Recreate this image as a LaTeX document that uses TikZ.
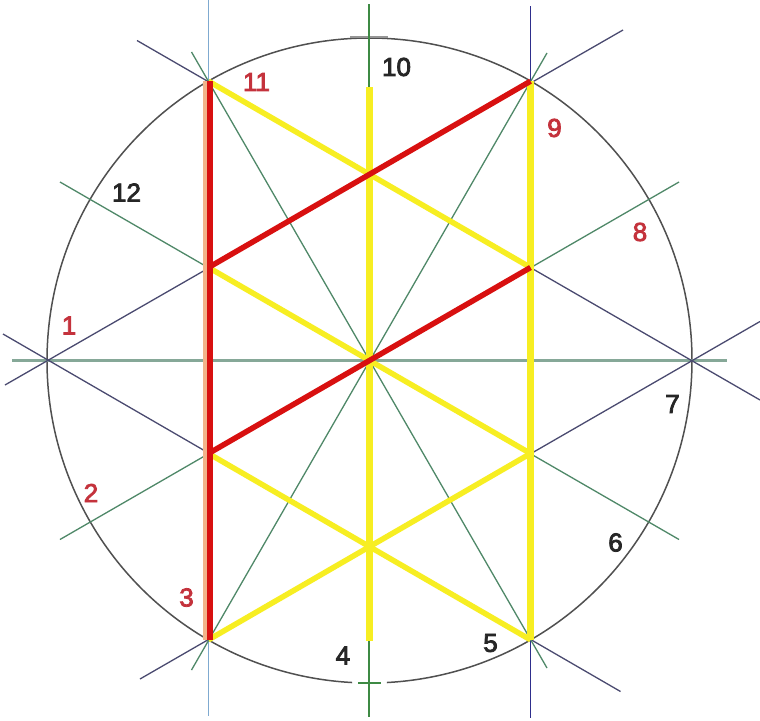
\documentclass[tikz,border=0pt]{standalone}
\usepackage{fontspec}
\setmainfont{Liberation Sans}
\newfontfamily\labfont{Liberation Sans}[FakeBold=3]
\definecolor{navy}{HTML}{4A4A70}
\definecolor{tealg}{HTML}{4F8868}
\definecolor{vgreen}{HTML}{3E8A44}
\definecolor{vblue}{HTML}{2E2E8C}
\definecolor{lblue}{HTML}{7FAAD0}
\definecolor{hgreen}{HTML}{86A898}
\definecolor{ringgray}{HTML}{505050}
\definecolor{hlred}{HTML}{D81010}
\definecolor{hlyellow}{HTML}{F7EE22}
\definecolor{peach}{HTML}{F2B48A}
\definecolor{labred}{HTML}{C4323C}
\definecolor{labblack}{HTML}{262626}
\begin{document}
\begin{tikzpicture}[x=1pt,y=-1pt,
  fine/.style={line width=1.3pt},
  navyline/.style={fine, draw=navy},
  tealline/.style={fine, draw=tealg},
  ring/.style={line width=1.5pt, draw=ringgray},
  yel/.style={line width=5.5pt, draw=hlyellow},
  yelv/.style={line width=7pt, draw=hlyellow},
  redl/.style={line width=5.5pt, draw=hlred},
  lab/.style={inner sep=0pt, font=\labfont\fontsize{26}{26}\selectfont},
  labr/.style={lab, text=labred},
  labk/.style={lab, text=labblack}]
\fill[white] (0,0) rectangle (760,720);
\useasboundingbox (0,0) rectangle (760,720);
% key points
\coordinate (C) at (369.5,360.5);
\coordinate (V0) at (692,360.5);
\coordinate (V60) at (530.5,81.2);
\coordinate (V120) at (208.5,81.2);
\coordinate (V180) at (47,360.5);
\coordinate (V240) at (208.5,639.8);
\coordinate (V300) at (530.5,639.8);
\coordinate (P1) at (208.5,267.5);
\coordinate (P2) at (208.5,453.5);
\coordinate (Q1) at (530.5,267.5);
\coordinate (Q2) at (530.5,453.5);
% extension ends
\coordinate (E1a) at (5,385);
\coordinate (E1b) at (623,30);
\coordinate (E2a) at (3,334);
\coordinate (E2b) at (620.5,691.5);
\coordinate (E3a) at (760,400);
\coordinate (E3b) at (137,40.5);
\coordinate (E4a) at (760,321.5);
\coordinate (E4b) at (140,679);
\coordinate (G1a) at (547,53);
\coordinate (G1b) at (191.5,670);
\coordinate (G2a) at (191.5,52);
\coordinate (G2b) at (547,668);
\coordinate (G3a) at (60,182);
\coordinate (G3b) at (679,539.5);
\coordinate (G4a) at (60,539.5);
\coordinate (G4b) at (679,182);
\coordinate (Lt) at (208.5,0);
\coordinate (Lb) at (208.5,716);
\coordinate (Mt) at (369,4);
\coordinate (Mb) at (369,717);
\coordinate (My1) at (369,87);
\coordinate (My2) at (369,641);
\coordinate (Rt) at (530.5,6);
\coordinate (Rb) at (530.5,718);
\coordinate (Hl) at (12,360.5);
\coordinate (Hr) at (727,360.5);
\coordinate (Tt1) at (350,37);
\coordinate (Tt2) at (388,37);
\coordinate (Bt1) at (358,683);
\coordinate (Bt2) at (381,683);
% circle with small gap at the bottom
\draw[ring] (C) ++(93.1:322.5) arc[start angle=93.1, end angle=446.9, radius=322.5];
\draw[line width=1.3pt, draw=ringgray!60] (Tt1) -- (Tt2);
\draw[line width=1.3pt, draw=vgreen] (Bt1) -- (Bt2);
% construction lines
\draw[line width=3pt, draw=hgreen] (Hl) -- (Hr);
\draw[fine, draw=lblue] (Lt) -- (Lb);
\draw[fine, draw=vgreen] (Mt) -- (Mb);
\draw[fine, draw=vblue] (Rt) -- (Rb);
\draw[navyline] (E1a) -- (E1b);
\draw[navyline] (E2a) -- (E2b);
\draw[navyline] (E3a) -- (E3b);
\draw[navyline] (E4a) -- (E4b);
\draw[tealline] (G1a) -- (G1b);
\draw[tealline] (G2a) -- (G2b);
\draw[tealline] (G3a) -- (G3b);
\draw[tealline] (G4a) -- (G4b);
% yellow
\draw[yelv] (My1) -- (My2);
\draw[yelv] (V60) -- (V300);
\draw[yel] (V120) -- (Q1);
\draw[yel] (P1) -- (Q2);
\draw[yel] (P2) -- (V300);
\draw[yel] (V240) -- (Q2);
% red
\draw[line width=3.5pt, draw=peach] ([xshift=-3.5pt]V120) -- ([xshift=-3.5pt]V240);
\draw[line width=6pt, draw=hlred] ([xshift=1pt]V120) -- ([xshift=1pt]V240);
\draw[redl] (P1) -- (V60);
\draw[redl] (P2) -- (Q1);
% labels
\node[labr] (n11) at (256.5,82) {11};
\node[labk] (n10) at (396.5,67) {10};
\node[labr] (n9) at (554.5,128) {9};
\node[labr] (n8) at (640,232) {8};
\node[labk] (n12) at (126.5,192.5) {12};
\node[labr] (n1) at (69,325.5) {1};
\node[labr] (n2) at (91,493) {2};
\node[labr] (n3) at (186.5,597.5) {3};
\node[labk] (n4) at (343,655.5) {4};
\node[labk] (n5) at (490.5,643) {5};
\node[labk] (n6) at (615.5,542.5) {6};
\node[labk] (n7) at (672.5,404) {7};
\end{tikzpicture}
\end{document}
